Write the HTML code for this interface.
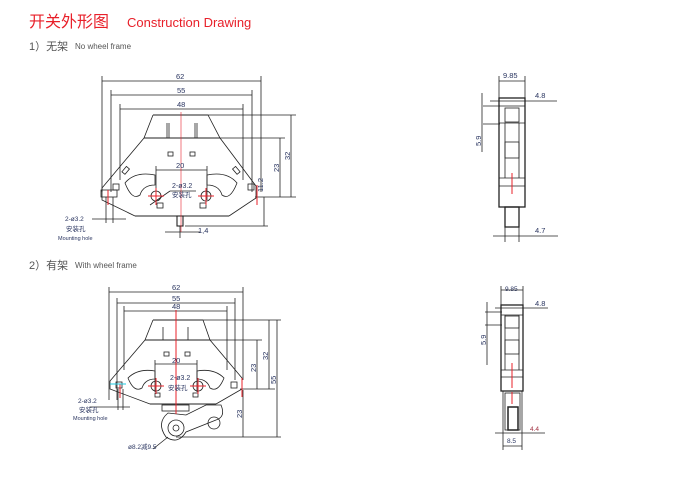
<!DOCTYPE html>
<html><head><meta charset="utf-8"><style>
html,body{margin:0;padding:0;background:#fff;}
svg{display:block;}
text{font-family:"Liberation Sans","Noto Sans CJK SC",sans-serif;}
</style></head><body>
<svg width="678" height="481" viewBox="0 0 678 481" xmlns="http://www.w3.org/2000/svg">
<text x="29" y="27" font-size="16" fill="#e8202a">开关外形图</text>
<text x="127" y="27" font-size="13" fill="#e8202a">Construction Drawing</text>
<text x="29" y="50" font-size="11" fill="#555">1）无架</text>
<text x="75" y="49" font-size="8" fill="#555">No wheel frame</text>
<text x="29" y="269" font-size="11" fill="#555">2）有架</text>
<text x="75" y="268" font-size="8" fill="#555">With wheel frame</text>

<g stroke="#222" stroke-width="0.8" fill="none">
<line x1="102" y1="81" x2="261" y2="81"/><line x1="102" y1="76" x2="102" y2="192"/><line x1="261" y1="76" x2="261" y2="192"/>
<line x1="111" y1="95" x2="252" y2="95"/><line x1="111" y1="90" x2="111" y2="192"/><line x1="252" y1="90" x2="252" y2="192"/>
<line x1="120" y1="109" x2="243" y2="109"/><line x1="120" y1="104" x2="120" y2="180"/><line x1="243" y1="104" x2="243" y2="180"/>
<line x1="208" y1="115" x2="296" y2="115"/><line x1="220" y1="138" x2="285" y2="138"/><line x1="255" y1="197" x2="296" y2="197"/>
<line x1="291" y1="115" x2="291" y2="197"/><line x1="280" y1="138" x2="280" y2="197"/><line x1="264" y1="197" x2="264" y2="226"/>
<line x1="185" y1="226" x2="268" y2="226"/>
<g stroke-width="1.1">
<line x1="153" y1="115" x2="208" y2="115"/><line x1="144" y1="138" x2="220" y2="138"/>
<line x1="135" y1="216" x2="229" y2="216"/>
<rect x="177" y="216" width="6" height="10"/>
</g>
<polyline points="153,115 144,138 102,188 102,200 135,216"/>
<polyline points="208,115 220,138 256,186 256,198 229,216"/>
<rect x="168" y="152" width="5" height="4"/><rect x="190" y="152" width="5" height="4"/>
<line x1="167" y1="123" x2="167" y2="138"/><line x1="169" y1="123" x2="169" y2="138"/>
<line x1="195" y1="123" x2="195" y2="138"/><line x1="197" y1="123" x2="197" y2="138"/>
<rect x="124" y="167" width="4" height="7" transform="rotate(40 126 170)"/>
<rect x="234" y="167" width="4" height="7" transform="rotate(-40 236 170)"/>
<path d="M125,183 q10,-12 30,-8 l0,10 q-12,0 -15,10 q-8,6 -15,-12z"/>
<path d="M237,183 q-10,-12 -30,-8 l0,10 q12,0 15,10 q8,6 15,-12z"/>
<circle cx="156" cy="196" r="5"/><circle cx="206" cy="196" r="5"/>
<rect x="157" y="203" width="6" height="5"/><rect x="200" y="203" width="6" height="5"/>
<rect x="101" y="190" width="16" height="7"/><rect x="113" y="184" width="6" height="6"/>
<rect x="248" y="184" width="6" height="6"/>
<line x1="156" y1="170" x2="207" y2="170"/><line x1="156" y1="166" x2="156" y2="200"/><line x1="207" y1="166" x2="207" y2="200"/>
<line x1="170" y1="191" x2="196" y2="191"/><line x1="170" y1="191" x2="150" y2="205"/>
<line x1="106" y1="197" x2="106" y2="223"/><line x1="113" y1="197" x2="113" y2="223"/>
<line x1="92" y1="219" x2="126" y2="219"/>
<line x1="165" y1="232" x2="200" y2="232"/><line x1="180" y1="226" x2="180" y2="238"/>

<rect x="499" y="98" width="26" height="109" stroke-width="1.3"/>
<rect x="505" y="207" width="14" height="20" stroke-width="1.3"/>
<line x1="499" y1="81" x2="525" y2="81"/><line x1="499" y1="76" x2="499" y2="98"/><line x1="525" y1="76" x2="525" y2="98"/>
<line x1="490" y1="101" x2="557" y2="101"/>
<line x1="483" y1="106" x2="500" y2="106"/><line x1="483" y1="124" x2="500" y2="124"/><line x1="482" y1="93" x2="482" y2="152"/>
<line x1="499" y1="106" x2="525" y2="106"/><line x1="499" y1="123" x2="525" y2="123"/>
<line x1="505" y1="123" x2="505" y2="178"/><line x1="519" y1="123" x2="519" y2="178"/>
<rect x="505" y="108" width="14" height="14"/><rect x="505" y="142" width="14" height="16"/>
<line x1="499" y1="178" x2="525" y2="178"/><line x1="499" y1="186" x2="525" y2="186"/>
<line x1="505" y1="227" x2="505" y2="242"/><line x1="519" y1="227" x2="519" y2="242"/>
<line x1="493" y1="236" x2="558" y2="236"/>

<line x1="109" y1="292" x2="243" y2="292"/><line x1="109" y1="287" x2="109" y2="400"/><line x1="243" y1="287" x2="243" y2="380"/>
<line x1="117" y1="303" x2="235" y2="303"/><line x1="117" y1="298" x2="117" y2="400"/><line x1="235" y1="298" x2="235" y2="380"/>
<line x1="124" y1="311" x2="227" y2="311"/><line x1="124" y1="306" x2="124" y2="370"/><line x1="227" y1="306" x2="227" y2="370"/>
<line x1="203" y1="320" x2="281" y2="320"/><line x1="210" y1="340" x2="262" y2="340"/><line x1="240" y1="389" x2="275" y2="389"/>
<line x1="277" y1="320" x2="277" y2="437"/><line x1="269" y1="320" x2="269" y2="389"/><line x1="257" y1="340" x2="257" y2="389"/>
<line x1="243" y1="390" x2="243" y2="437"/><line x1="176" y1="437" x2="281" y2="437"/>
<g stroke-width="1.1">
<line x1="153" y1="320" x2="203" y2="320"/><line x1="145" y1="340" x2="210" y2="340"/><line x1="150" y1="404" x2="216" y2="404"/>
</g>
<polyline points="153,320 145,340 110,381 110,389 150,404"/>
<polyline points="203,320 210,340 242,378 242,389 216,404"/>
<rect x="164" y="352" width="5" height="4"/><rect x="185" y="352" width="5" height="4"/>
<line x1="163" y1="327" x2="163" y2="340"/><line x1="188" y1="327" x2="188" y2="340"/>
<path d="M128,378 q10,-10 27,-7 l0,8 q-10,0 -13,9 q-8,5 -14,-10z"/>
<path d="M224,378 q-10,-10 -27,-7 l0,8 q10,0 13,9 q8,5 14,-10z"/>
<circle cx="156" cy="386" r="5"/><circle cx="198" cy="386" r="5"/>
<rect x="155" y="393" width="5" height="4"/><rect x="193" y="393" width="5" height="4"/>
<rect x="162" y="405" width="27" height="6"/>
<line x1="155" y1="364" x2="197" y2="364"/><line x1="155" y1="360" x2="155" y2="392"/><line x1="197" y1="360" x2="197" y2="392"/>
<rect x="116" y="382" width="6" height="6"/><rect x="231" y="382" width="6" height="6"/>
<path d="M168,413 q-12,10 -2,24 q12,8 20,-5 l30,-12 q10,-3 5,-15 l-15,0 l-20,10z"/>
<circle cx="176" cy="428" r="8"/><circle cx="176" cy="428" r="3"/><circle cx="214" cy="423" r="6"/>
<line x1="90" y1="407" x2="130" y2="407"/><line x1="118" y1="389" x2="118" y2="410"/><line x1="123" y1="389" x2="123" y2="410"/>
<line x1="168" y1="437" x2="153" y2="449"/>

<rect x="501" y="305" width="22" height="86" stroke-width="1.3"/>
<line x1="501" y1="290" x2="523" y2="290"/><line x1="501" y1="286" x2="501" y2="305"/><line x1="523" y1="286" x2="523" y2="305"/>
<line x1="495" y1="308" x2="548" y2="308"/>
<line x1="485" y1="312" x2="502" y2="312"/><line x1="485" y1="325" x2="502" y2="325"/><line x1="487" y1="302" x2="487" y2="365"/>
<line x1="501" y1="315" x2="523" y2="315"/>
<line x1="505" y1="315" x2="505" y2="370"/><line x1="519" y1="315" x2="519" y2="370"/>
<rect x="505" y="316" width="14" height="12"/><rect x="505" y="340" width="14" height="14"/>
<line x1="501" y1="370" x2="523" y2="370"/><line x1="501" y1="377" x2="523" y2="377"/>
<rect x="505" y="393" width="15" height="37"/><rect x="508" y="407" width="10" height="23" stroke-width="1.5"/>
<line x1="503" y1="391" x2="503" y2="432"/><line x1="522" y1="391" x2="522" y2="432"/>
<line x1="495" y1="433" x2="545" y2="433"/>
<line x1="503" y1="432" x2="503" y2="450"/><line x1="522" y1="432" x2="522" y2="450"/>
<line x1="503" y1="446" x2="522" y2="446"/>
</g>

<g stroke="#e8202a" stroke-width="1">
<line x1="181" y1="112" x2="181" y2="232" stroke-width="0.6"/>
<line x1="148" y1="196" x2="164" y2="196"/><line x1="156" y1="188" x2="156" y2="205"/>
<line x1="198" y1="196" x2="214" y2="196"/><line x1="206" y1="188" x2="206" y2="205"/>
<line x1="108" y1="190" x2="108" y2="205"/><line x1="257" y1="185" x2="257" y2="205"/>
<line x1="512" y1="173" x2="512" y2="194"/>
<line x1="176" y1="310" x2="176" y2="414"/>
<line x1="148" y1="386" x2="164" y2="386"/><line x1="156" y1="378" x2="156" y2="394"/>
<line x1="190" y1="386" x2="206" y2="386"/><line x1="198" y1="378" x2="198" y2="394"/>
<line x1="242" y1="378" x2="242" y2="397"/><line x1="120" y1="384" x2="120" y2="398"/>
<line x1="512" y1="363" x2="512" y2="388"/><line x1="512" y1="392" x2="512" y2="404"/>
</g>
<line x1="110" y1="384" x2="126" y2="384" stroke="#1cc8e0" stroke-width="1"/>

<g font-size="7.5" fill="#2a3560">
<text x="176" y="79">62</text><text x="177" y="93">55</text><text x="177" y="107">48</text>
<text x="176" y="168">20</text>
<text x="172" y="188" font-size="7">2-ø3.2</text><text x="172" y="197" font-size="6.5">安装孔</text>
<text x="198" y="233">1,4</text>
<text x="65" y="221" font-size="6.5">2-ø3.2</text><text x="66" y="231" font-size="6.5">安装孔</text><text x="58" y="240" font-size="5.5">Mounting hole</text>
<text transform="translate(290,160) rotate(-90)">32</text>
<text transform="translate(279,172) rotate(-90)">23</text>
<text transform="translate(263,192) rotate(-90)">11.2</text>
<text x="503" y="78">9.85</text><text x="535" y="98">4.8</text><text x="535" y="233">4.7</text>
<text transform="translate(481,146) rotate(-90)">5.9</text>
<text x="172" y="290">62</text><text x="172" y="301">55</text><text x="172" y="309">48</text>
<text x="172" y="363">20</text>
<text x="170" y="380" font-size="7">2-ø3.2</text><text x="168" y="390" font-size="6.5">安装孔</text>
<text x="78" y="403" font-size="6.5">2-ø3.2</text><text x="79" y="412" font-size="6.5">安装孔</text><text x="73" y="420" font-size="5.5">Mounting hole</text>
<text x="128" y="449" font-size="6.5">ø8.2减9.5</text>
<text transform="translate(268,360) rotate(-90)">32</text>
<text transform="translate(256,372) rotate(-90)">23</text>
<text transform="translate(276,384) rotate(-90)">55</text>
<text transform="translate(242,418) rotate(-90)">23</text>
<text x="505" y="291" font-size="6.5">9.85</text><text x="535" y="306">4.8</text>
<text transform="translate(486,345) rotate(-90)">5.9</text>
<text x="530" y="431" font-size="6.5" fill="#a03040">4.4</text><text x="507" y="443" font-size="6.5">8.5</text>
</g>
</svg>
</body></html>
